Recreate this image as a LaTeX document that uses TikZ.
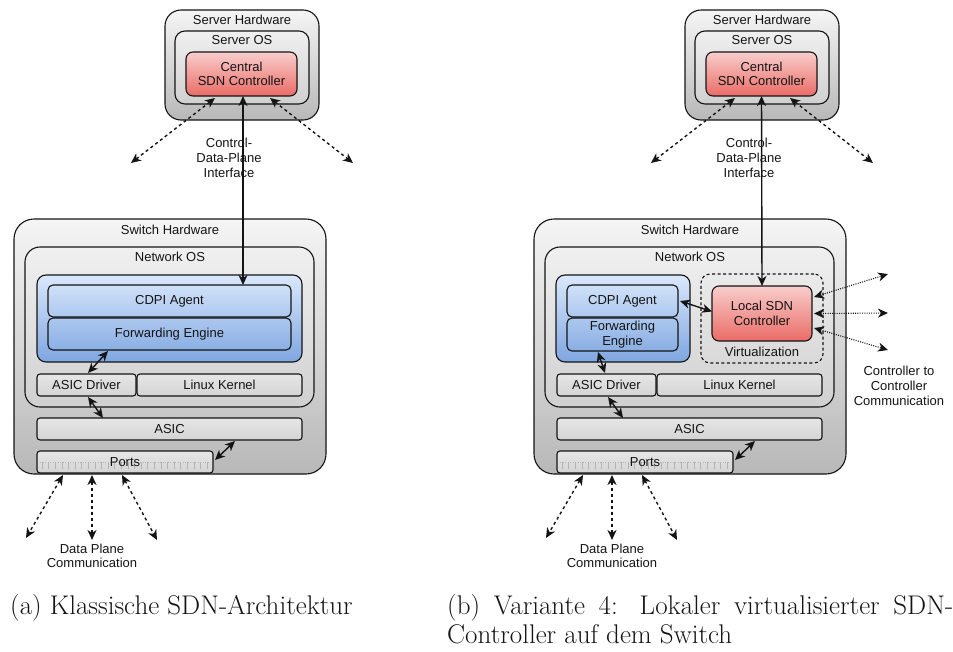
\documentclass[tikz,border=0pt]{standalone}
\usepackage{fontspec}
\newfontfamily\diagfont{Liberation Sans}
\usetikzlibrary{arrows.meta,fit,calc}
\definecolor{hwtop}{HTML}{F5F5F5}
\definecolor{hwbot}{HTML}{B8B8B8}
\definecolor{ostop}{HTML}{F0F0F0}
\definecolor{osbot}{HTML}{D0D0D0}
\definecolor{parttop}{HTML}{E6E6E6}
\definecolor{partbot}{HTML}{D4D4D4}
\definecolor{bluetop}{HTML}{DAE8FC}
\definecolor{bluebot}{HTML}{7EA6E0}
\definecolor{redtop}{HTML}{F8CECC}
\definecolor{redbot}{HTML}{EA6B66}
\definecolor{ink}{HTML}{141414}
\begin{document}
\begin{tikzpicture}[x=1pt,y=-1pt,
  font=\diagfont\fontsize{13}{15.5}\selectfont,
  every node/.style={text=ink},
  base/.style={draw=ink, line width=1.1pt, inner sep=0pt, outer sep=0pt},
  hwbox/.style={base, rounded corners=16pt, top color=hwtop, bottom color=hwbot},
  osbox/.style={base, rounded corners=10pt, top color=ostop, bottom color=osbot},
  partbox/.style={base, rounded corners=3pt, top color=parttop, bottom color=partbot},
  bluebox/.style={base, rounded corners=9pt, top color=bluetop, bottom color=bluebot},
  blockbox/.style={base, rounded corners=5pt},
  redbox/.style={base, rounded corners=7pt, top color=redtop, bottom color=redbot},
  virtbox/.style={base, dash pattern=on 3pt off 2.5pt, rounded corners=9pt},
  lbl/.style={inner sep=0pt, align=center},
  link/.style={line width=1.4pt, draw=ink, {Stealth[length=10pt,width=9pt,inset=3pt]}-{Stealth[length=10pt,width=9pt,inset=3pt]}},
  dashlink/.style={link, dash pattern=on 3pt off 3pt},
  dotlink/.style={link, line width=1.1pt, dash pattern=on 1pt off 1.3pt},
  tick/.style={draw=black!30, line width=0.5pt}
]
\useasboundingbox (0,0) rectangle (953,651);

% ---------------- (a) classic architecture ----------------
\node[hwbox, fit={(165,10)(319,120)}] (shwA) {};
\node[lbl] (shwAl) at (242,20) {Server Hardware};
\node[osbox, fit={(175,31)(309,104)}] (sosA) {};
\node[lbl] (sosAl) at (242,40) {Server OS};
\node[redbox, fit={(186,52)(297,96)}] (ctrlA) {};
\node[lbl] (ctrlAl) at (ctrlA.center) {Central\\[-1pt]SDN Controller};

\node[lbl] (cdpiA) at (229,158) {Control-\\[-0.5pt]Data-Plane\\[-0.5pt]Interface};

\node[hwbox, rounded corners=20pt, fit={(14,219)(326,474)}] (swA) {};
\node[lbl] (swAl) at (170,230) {Switch Hardware};
\node[osbox, rounded corners=15pt, fit={(25,247)(314,407)}] (nosA) {};
\node[lbl] (nosAl) at (170,257) {Network OS};
\node[bluebox, fit={(37,275)(302,362)}] (blueA) {};
\node[blockbox, fit={(48,285)(291,317)}] (agentA) {};
\node[lbl] (agentAl) at (agentA.center) {CDPI Agent};
\node[blockbox, fit={(48,318)(291,350)}] (feA) {};
\node[lbl] (feAl) at (feA.center) {Forwarding Engine};
\node[partbox, fit={(37,374)(136,396)}] (drvA) {};
\node[lbl] (drvAl) at (drvA.center) {ASIC Driver};
\node[partbox, fit={(137,374)(302,396)}] (linA) {};
\node[lbl] (linAl) at (linA.center) {Linux Kernel};
\node[partbox, fit={(37,418)(302,440)}] (asicA) {};
\node[lbl] (asicAl) at (asicA.center) {ASIC};
\node[partbox, fit={(37,451)(213,473)}] (portA) {};
\draw[tick, dotted] (40,462) -- (210,462);
\foreach \i in {0,...,25} \draw[tick] (42+6.6*\i,462) -- (42+6.6*\i,469);
\node[lbl] (portAl) at (125,462) {Ports};

\coordinate (vA) at (243,0);
\draw[link] (ctrlA.south -| vA) -- (agentA.north -| vA);
\coordinate (srvAl) at (131,163);
\coordinate (srvAr) at (353,163);
\draw[dashlink] ($(ctrlA.south west)+(29,2)$) -- (srvAl);
\draw[dashlink] ($(ctrlA.south west)+(84,2)$) -- (srvAr);
\draw[link] ($(feA.south west)+(60,1)$) -- ($(drvA.north west)+(51,-1)$);
\draw[link] ($(drvA.south west)+(51,1)$) -- ($(asicA.north west)+(66,0)$);
\draw[link] ($(portA.east)+(2,-2)$) -- ($(asicA.south west)+(198,1)$);
\coordinate (dpA1) at (26,538);
\coordinate (dpA2) at (92,540);
\coordinate (dpA3) at (157,540);
\draw[dashlink] ($(portA.south west)+(26,2)$) -- (dpA1);
\draw[dashlink] ($(portA.south west)+(55,2)$) -- (dpA2);
\draw[dashlink] ($(portA.south west)+(85,2)$) -- (dpA3);
\node[lbl] (dpAl) at (92,556) {Data Plane\\[-1pt]Communication};

\node[anchor=base west, inner sep=0pt, font=\fontsize{27}{30}\selectfont] (capA) at (10,614) {(a) Klassische SDN-Architektur};

% ---------------- (b) local virtualised controller ----------------
\node[hwbox, fit={(685,10)(839,120)}] (shwB) {};
\node[lbl] (shwBl) at (762,20) {Server Hardware};
\node[osbox, fit={(695,31)(829,104)}] (sosB) {};
\node[lbl] (sosBl) at (762,40) {Server OS};
\node[redbox, fit={(706,52)(817,96)}] (ctrlB) {};
\node[lbl] (ctrlBl) at (ctrlB.center) {Central\\[-1pt]SDN Controller};

\node[lbl] (cdpiB) at (749,158) {Control-\\[-0.5pt]Data-Plane\\[-0.5pt]Interface};

\node[hwbox, rounded corners=20pt, fit={(534,219)(846,474)}] (swB) {};
\node[lbl] (swBl) at (690,230) {Switch Hardware};
\node[osbox, rounded corners=15pt, fit={(545,247)(834,407)}] (nosB) {};
\node[lbl] (nosBl) at (690,257) {Network OS};
\node[bluebox, fit={(556,275)(690,362)}] (blueB) {};
\node[blockbox, fit={(567,285)(678,317)}] (agentB) {};
\node[lbl] (agentBl) at (agentB.center) {CDPI Agent};
\node[blockbox, fit={(567,318)(678,351)}] (feB) {};
\node[lbl] (feBl) at (feB.center) {Forwarding\\[-1pt]Engine};
\node[virtbox, fit={(701,274)(823,363)}] (virtB) {};
\node[redbox, fit={(712,286)(812,341)}] (localB) {};
\node[lbl] (localBl) at (localB.center) {Local SDN\\[-1pt]Controller};
\node[lbl] (virtBl) at (762,352) {Virtualization};
\node[partbox, fit={(557,374)(656,396)}] (drvB) {};
\node[lbl] (drvBl) at (drvB.center) {ASIC Driver};
\node[partbox, fit={(657,374)(822,396)}] (linB) {};
\node[lbl] (linBl) at (linB.center) {Linux Kernel};
\node[partbox, fit={(557,418)(822,440)}] (asicB) {};
\node[lbl] (asicBl) at (asicB.center) {ASIC};
\node[partbox, fit={(557,451)(733,473)}] (portB) {};
\draw[tick, dotted] (560,462) -- (730,462);
\foreach \i in {0,...,25} \draw[tick] (562+6.6*\i,462) -- (562+6.6*\i,469);
\node[lbl] (portBl) at (645,462) {Ports};

\draw[link] (ctrlB.south) -- (localB.north);
\coordinate (srvBl) at (651,163);
\coordinate (srvBr) at (873,163);
\draw[dashlink] ($(ctrlB.south west)+(29,2)$) -- (srvBl);
\draw[dashlink] ($(ctrlB.south west)+(84,2)$) -- (srvBr);
\draw[link] ($(agentB.east)+(2,0)$) -- ($(localB.west)+(0,-2)$);
\draw[link] ($(feB.south west)+(31,1)$) -- ($(drvB.north west)+(48,-1)$);
\draw[link] ($(drvB.south west)+(51,1)$) -- ($(asicB.north west)+(66,0)$);
\draw[link] ($(portB.east)+(2,-2)$) -- ($(asicB.south west)+(198,1)$);
\coordinate (dpB1) at (546,538);
\coordinate (dpB2) at (612,540);
\coordinate (dpB3) at (677,540);
\draw[dashlink] ($(portB.south west)+(26,2)$) -- (dpB1);
\draw[dashlink] ($(portB.south west)+(55,2)$) -- (dpB2);
\draw[dashlink] ($(portB.south west)+(85,2)$) -- (dpB3);
\node[lbl] (dpBl) at (612,556) {Data Plane\\[-1pt]Communication};

\coordinate (ccB1) at (888,274);
\coordinate (ccB2) at (888,313);
\coordinate (ccB3) at (888,350);
\draw[dotlink] ($(localB.north east)+(2,11)$) -- (ccB1);
\draw[dotlink] ($(localB.east)+(2,0)$) -- (ccB2);
\draw[dotlink] ($(localB.south east)+(2,-13)$) -- (ccB3);
\node[lbl] (ccBl) at (899,386) {Controller to\\[-0.5pt]Controller\\[-0.5pt]Communication};

\node[anchor=base west, inner sep=0pt, text width=506pt, align=justify,
      font=\fontsize{27}{29}\selectfont] (capB) at (447,614)
  {(b) Variante 4: Lokaler virtualisierter SDN-\linebreak Controller auf dem Switch};
\end{tikzpicture}
\end{document}
